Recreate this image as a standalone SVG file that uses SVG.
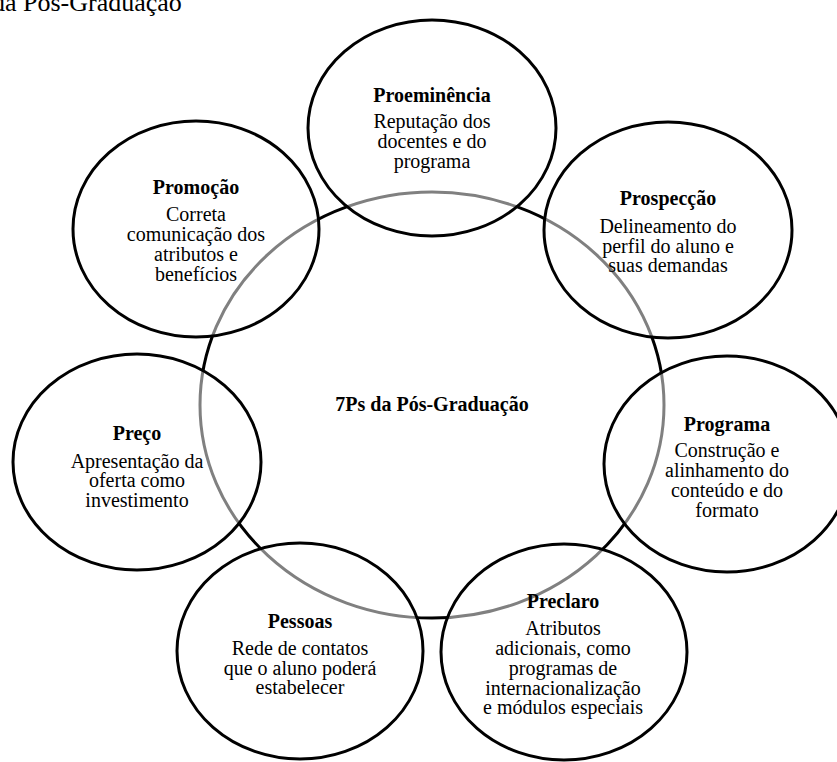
<svg xmlns="http://www.w3.org/2000/svg" width="837" height="762" viewBox="0 0 837 762">
<style>
  .bg { fill: #ffffff; }
  .big { fill: none; stroke: #000; stroke-width: 3; }
  .node { fill: #ffffff; fill-opacity: 0.5; stroke: #000; stroke-width: 3; }
  text { font-family: "Liberation Serif", "Times New Roman", serif; fill: #000; text-anchor: middle; }
  .t { font-size: 20px; font-weight: bold; }
  .b { font-size: 20px; }
  .hdr { font-size: 26px; text-anchor: start; }
</style>
<rect class="bg" x="0" y="0" width="837" height="762"/>
<text class="hdr" x="-8" y="11">da Pós-Graduação</text>
<g id="center">
  <ellipse class="big" cx="432" cy="405" rx="232" ry="213"/>
  <text class="t" x="432" y="411">7Ps da Pós-Graduação</text>
</g>
<g id="proeminencia">
  <ellipse class="node" cx="432" cy="128" rx="124" ry="108"/>
  <text class="t" x="432" y="102">Proeminência</text>
  <text class="b" x="432" y="128">Reputação dos</text>
  <text class="b" x="432" y="148">docentes e do</text>
  <text class="b" x="432" y="168">programa</text>
</g>
<g id="prospeccao">
  <ellipse class="node" cx="668" cy="230" rx="124" ry="108"/>
  <text class="t" x="668" y="205">Prospecção</text>
  <text class="b" x="668" y="233">Delineamento do</text>
  <text class="b" x="668" y="253">perfil do aluno e</text>
  <text class="b" x="668" y="272">suas demandas</text>
</g>
<g id="programa">
  <ellipse class="node" cx="727" cy="464" rx="123" ry="108"/>
  <text class="t" x="727" y="431">Programa</text>
  <text class="b" x="727" y="457">Construção e</text>
  <text class="b" x="727" y="477">alinhamento do</text>
  <text class="b" x="727" y="497">conteúdo e do</text>
  <text class="b" x="727" y="517">formato</text>
</g>
<g id="preclaro">
  <ellipse class="node" cx="564" cy="652" rx="123" ry="108"/>
  <text class="t" x="563" y="608">Preclaro</text>
  <text class="b" x="563" y="635">Atributos</text>
  <text class="b" x="563" y="655">adicionais, como</text>
  <text class="b" x="563" y="675">programas de</text>
  <text class="b" x="563" y="695">internacionalização</text>
  <text class="b" x="563" y="714">e módulos especiais</text>
</g>
<g id="pessoas">
  <ellipse class="node" cx="300" cy="651" rx="123" ry="108"/>
  <text class="t" x="300" y="628">Pessoas</text>
  <text class="b" x="300" y="655">Rede de contatos</text>
  <text class="b" x="300" y="675">que o aluno poderá</text>
  <text class="b" x="300" y="694">estabelecer</text>
</g>
<g id="preco">
  <ellipse class="node" cx="137" cy="462" rx="124" ry="108"/>
  <text class="t" x="137" y="440">Preço</text>
  <text class="b" x="137" y="468">Apresentação da</text>
  <text class="b" x="137" y="487">oferta como</text>
  <text class="b" x="137" y="507">investimento</text>
</g>
<g id="promocao">
  <ellipse class="node" cx="196" cy="229" rx="123" ry="108"/>
  <text class="t" x="196" y="194">Promoção</text>
  <text class="b" x="196" y="221">Correta</text>
  <text class="b" x="196" y="241">comunicação dos</text>
  <text class="b" x="196" y="261">atributos e</text>
  <text class="b" x="196" y="281">benefícios</text>
</g>
<g id="connectors"></g>
</svg>
